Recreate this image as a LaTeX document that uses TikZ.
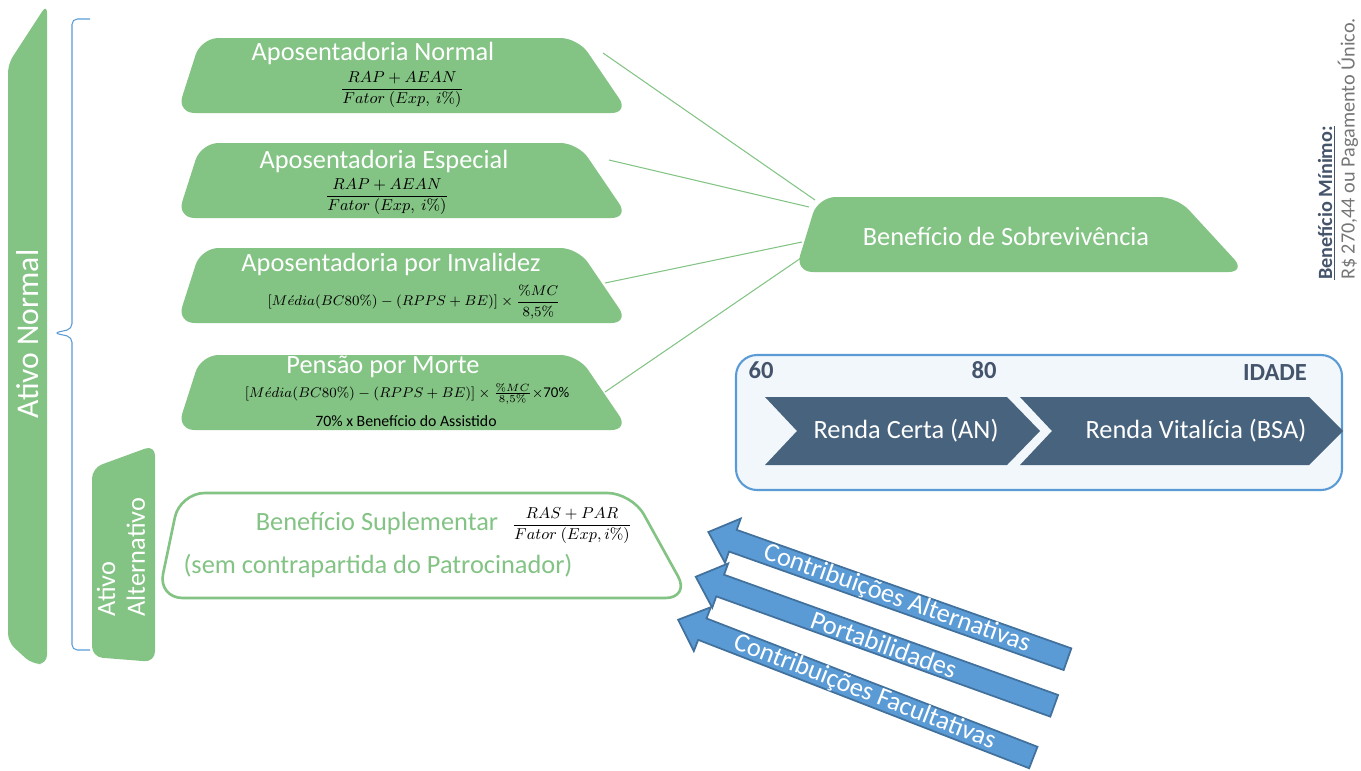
\documentclass[tikz,border=0pt]{standalone}
\usepackage[no-math]{fontspec}
\setmainfont{Carlito}
\definecolor{benefitgreen}{RGB}{131,195,132}
\definecolor{slate}{RGB}{68,84,106}
\definecolor{chevronblue}{RGB}{71,99,125}
\definecolor{panelblue}{RGB}{91,155,213}
\definecolor{panelfill}{RGB}{242,247,252}
\definecolor{arrowblue}{RGB}{91,155,213}
\definecolor{arrowborder}{RGB}{65,113,156}
\definecolor{minimogray}{RGB}{118,118,118}
\tikzset{
  greenshape/.style={fill=benefitgreen, rounded corners=10pt},
  boxtitle/.style={text=white, inner sep=0.5pt, font=\fontsize{15}{18}\selectfont},
  formula/.style={text=black, inner sep=0pt, font=\fontsize{9}{11}\selectfont},
  link/.style={draw=benefitgreen, line width=0.6pt},
  agelabel/.style={text=slate, font=\bfseries\fontsize{14}{16}\selectfont},
  chevtext/.style={text=white, font=\fontsize{15}{18}\selectfont},
  blockarrow/.style={fill=arrowblue, draw=arrowborder, line width=1pt},
  arrowtext/.style={text=white, inner sep=0pt, font=\fontsize{15}{18}\selectfont}
}
\begin{document}
\begin{tikzpicture}[x=0.2mm, y=-0.2mm]
\useasboundingbox (0,0) rectangle (1361,770);

% left side: Ativo Normal / Ativo Alternativo
\fill[greenshape, rounded corners=5pt] (8,64) -- (47,4) -- (47,664) -- (32,664) -- (8,642) -- cycle;
\node[rotate=90, text=white, font=\fontsize{18}{21}\selectfont] (ativonormal) at (28,334) {Ativo Normal};
\draw[panelblue, line width=0.6pt, rounded corners=3pt] (90,19) -- (72,19) -- (72,329) -- (54,333) -- (72,337) -- (72,650) -- (90,650);
\fill[greenshape, rounded corners=6pt] (92,657) -- (92,468) -- (155,445) -- (155,662) -- cycle;
\node[rotate=90, text=white, align=left, font=\fontsize{15}{17}\selectfont] (ativoalt) at (121,557) {Ativo\\Alternativo};

% links to Beneficio de Sobrevivencia
\coordinate (normal-link) at (603,53);
\coordinate (especial-link) at (609,160);
\coordinate (invalidez-link) at (605,283);
\coordinate (pensao-link) at (605,392);
\coordinate (sobrev-a) at (815,200);
\coordinate (sobrev-b) at (809,207);
\coordinate (sobrev-c) at (802,242);
\coordinate (sobrev-d) at (801,258);
\foreach \from/\to in {normal-link/sobrev-a, especial-link/sobrev-b, invalidez-link/sobrev-c, pensao-link/sobrev-d}
  \draw[link] (\from) -- (\to);

% the four benefits
\foreach \top in {38,143,248,355}
  \fill[greenshape] (177,\top+75) -- (201,\top) -- (578,\top) -- (629,\top+75) -- cycle;

\node[boxtitle] (normal) at (373,53) {Aposentadoria Normal};
\node[formula] (normalcalc) at (402,90) {$\displaystyle\frac{RAP+AEAN}{Fator\ (Exp,\ i\%)}$};
\node[boxtitle] (especial) at (384,161) {Aposentadoria Especial};
\node[formula] (especialcalc) at (387,197) {$\displaystyle\frac{RAP+AEAN}{Fator\ (Exp,\ i\%)}$};
\node[boxtitle] (invalidez) at (391,264) {Aposentadoria por Invalidez};
\node[formula, font=\fontsize{8.5}{10}\selectfont] (invalidezcalc) at (414,302) {$[M\acute{e}dia(BC80\%)-(RPPS+BE)]\times\displaystyle\frac{\%MC}{8{,}5\%}$};
\node[boxtitle] (pensao) at (383,367) {Pensão por Morte};
\node[formula, font=\fontsize{8.5}{10}\selectfont] (pensaocalc) at (407,394) {$[M\acute{e}dia(BC80\%)-(RPPS+BE)]\times\frac{\%MC}{8{,}5\%}$$\times$70\%};
\node[text=black, inner sep=0pt, font=\fontsize{9}{11}\selectfont] (pensaonote) at (406,421) {70\% x Benefício do Assistido};

% Beneficio de Sobrevivencia
\fill[greenshape] (795,272) -- (818,197) -- (1177,197) -- (1246,272) -- cycle;
\node[boxtitle] (sobrevivencia) at (1006,236) {Benefício de Sobrevivência};

% Beneficio Suplementar
\draw[draw=benefitgreen, fill=white, line width=1.5pt, rounded corners=14pt] (158,598) -- (180,493) -- (632,493) -- (690,598) -- cycle;
\node[boxtitle, text=benefitgreen] (suplementar) at (377,523) {Benefício Suplementar};
\node[formula] (suplementarcalc) at (572,526) {$\displaystyle\frac{RAS+PAR}{Fator\ (Exp,i\%)}$};
\node[boxtitle, text=benefitgreen] (contrapartida) at (378,566) {(sem contrapartida do Patrocinador)};

% idade
\draw[draw=panelblue, fill=panelfill, line width=1.2pt, rounded corners=12pt] (736,355) rectangle (1342,490);
\fill[chevronblue] (765,397) -- (1007,397) -- (1040,431) -- (1007,465) -- (765,465) -- (797,431) -- cycle;
\fill[chevronblue] (1020,397) -- (1309,397) -- (1343,431) -- (1309,465) -- (1020,465) -- (1052,431) -- cycle;
\node[chevtext] (rendacerta) at (906,431) {Renda Certa (AN)};
\node[chevtext] (rendavitalicia) at (1196,431) {Renda Vitalícia (BSA)};
\node[agelabel] (age60) at (761,370) {60};
\node[agelabel] (age80) at (984,370) {80};
\node[agelabel] (idade) at (1275,373) {IDADE};

% beneficio minimo
\node[rotate=90, align=left, font=\fontsize{11.5}{11.5}\selectfont] (minimo) at (1338,149)
  {\textcolor{slate}{\underline{\textbf{Benefício Mínimo:}}}\\\textcolor{minimogray}{R\$ 270,44 ou Pagamento Único.}};

% contribution arrows
\foreach \tx/\ty/\ang/\txt [count=\i] in {1067.5/659.2/19.5/Contribuições Alternativas, 1054.2/705.8/19.8/Portabilidades, 1033.3/757.5/21.2/Contribuições Facultativas} {
\begin{scope}[shift={(\tx,\ty)}, rotate=180-\ang]
\filldraw[blockarrow] (0,-11.5) -- (355,-11.5) -- (355,-23.5) -- (381,0) -- (355,23.5) -- (355,11.5) -- (0,11.5) -- cycle;
\node[arrowtext, rotate=-\ang] (contrib\i) at (181,0) {\txt};
\end{scope}
}
\end{tikzpicture}
\end{document}
